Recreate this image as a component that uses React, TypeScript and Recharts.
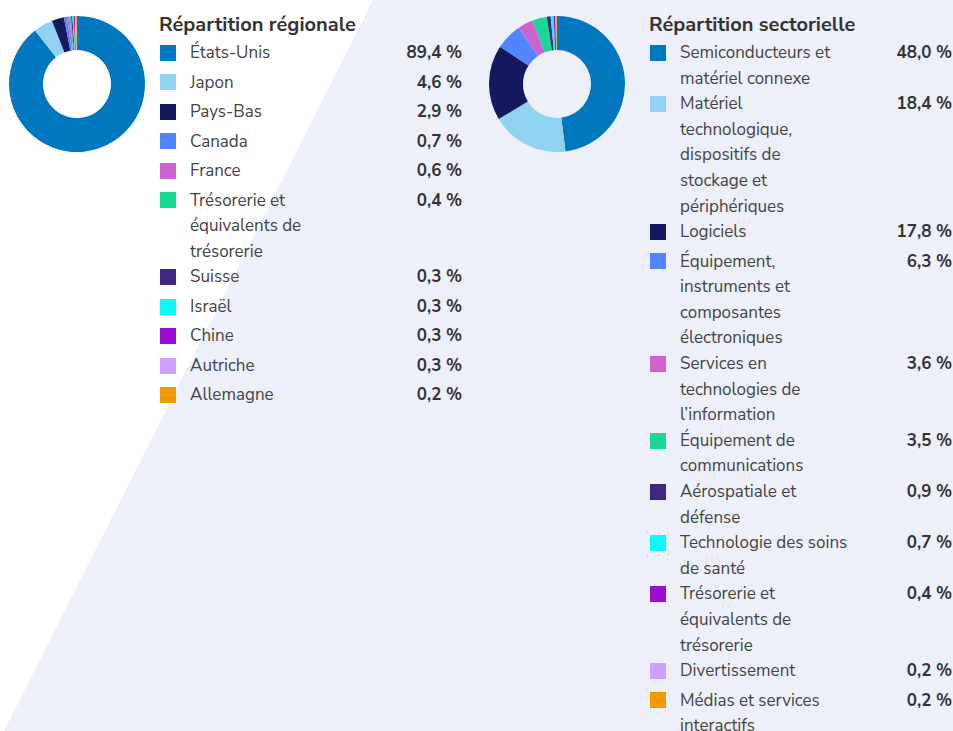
import { PieChart, Pie, Cell } from 'recharts';

const palette = [
  '#0077BE', '#8FD2F2', '#15195E', '#5185FF', '#CC63D0', '#19D893',
  '#40277F', '#0CF8F9', '#9E0ED0', '#D0A0FF', '#F09A00',
];

const regionNames = [
  'États-Unis', 'Japon', 'Pays-Bas', 'Canada', 'France',
  'Trésorerie et\néquivalents de\ntrésorerie',
  'Suisse', 'Israël', 'Chine', 'Autriche', 'Allemagne',
];
const regionValues = [89.4, 4.6, 2.9, 0.7, 0.6, 0.4, 0.3, 0.3, 0.3, 0.3, 0.2];

const sectorNames = [
  'Semiconducteurs et\nmatériel connexe',
  'Matériel\ntechnologique,\ndispositifs de\nstockage et\npériphériques',
  'Logiciels',
  'Équipement,\ninstruments et\ncomposantes\nélectroniques',
  'Services en\ntechnologies de\nl’information',
  'Équipement de\ncommunications',
  'Aérospatiale et\ndéfense',
  'Technologie des soins\nde santé',
  'Trésorerie et\néquivalents de\ntrésorerie',
  'Divertissement',
  'Médias et services\ninteractifs',
];
const sectorValues = [48.0, 18.4, 17.8, 6.3, 3.6, 3.5, 0.9, 0.7, 0.4, 0.2, 0.2];

const font = '"Nunito Sans", Lato, "Open Sans", sans-serif';
const fmt = (v: number) => v.toFixed(1).replace('.', ',') + '\u00a0%';

function Donut({ names, values, left }: { names: string[]; values: number[]; left: number }) {
  const data = names.map((n, i) => ({ name: n, value: values[i] }));
  return (
    <div style={{ position: 'absolute', left, top: 14 }}>
      <PieChart width={141} height={141} margin={{ top: 0, right: 0, bottom: 0, left: 0 }}>
        <Pie
          data={data}
          dataKey="value"
          cx={70}
          cy={70}
          innerRadius={34}
          outerRadius={68}
          startAngle={90}
          endAngle={-270}
          stroke="none"
          isAnimationActive={false}
        >
          {data.map((_, i) => (
            <Cell key={i} fill={palette[i % palette.length]} />
          ))}
        </Pie>
      </PieChart>
    </div>
  );
}

function LegendList({ title, names, values, left, right }: {
  title: string; names: string[]; values: number[]; left: number; right: number;
}) {
  return (
    <>
      <div style={{
        position: 'absolute', left: left - 1, top: 13, lineHeight: '24px',
        fontSize: 20, fontWeight: 700, color: '#333', fontFamily: font, whiteSpace: 'nowrap',
      }}>{title}</div>
      <div style={{ position: 'absolute', left, top: 38, width: right - left, fontFamily: font }}>
        {names.map((n, i) => (
          <div key={i} style={{ display: 'flex', alignItems: 'flex-start', minHeight: 29.5 }}>
            <div style={{ width: 16, height: 16, marginTop: 6.8, background: palette[i], flex: 'none' }} />
            <div style={{
              marginLeft: 14, whiteSpace: 'pre-line', lineHeight: '25.6px', paddingTop: 2,
              marginBottom: -2, fontSize: 17, color: '#444',
            }}>{n}</div>
            <div style={{
              marginLeft: 'auto', paddingTop: 2, lineHeight: '25.6px', fontWeight: 700,
              fontSize: 17, color: '#333', whiteSpace: 'nowrap',
            }}>{fmt(values[i])}</div>
          </div>
        ))}
      </div>
    </>
  );
}

export default function App() {
  return (
    <div style={{ position: 'absolute', left: 0, top: 0, width: 953, height: 731, background: '#fff', overflow: 'hidden' }}>
      <div style={{
        position: 'absolute', inset: 0, background: '#EDF0F9',
        clipPath: 'polygon(373px 0, 953px 0, 953px 731px, 4px 731px)',
      }} />
      <Donut names={regionNames} values={regionValues} left={7} />
      <LegendList title="Répartition régionale" names={regionNames} values={regionValues} left={160} right={462} />
      <Donut names={sectorNames} values={sectorValues} left={487} />
      <LegendList title="Répartition sectorielle" names={sectorNames} values={sectorValues} left={650} right={952} />
    </div>
  );
}
